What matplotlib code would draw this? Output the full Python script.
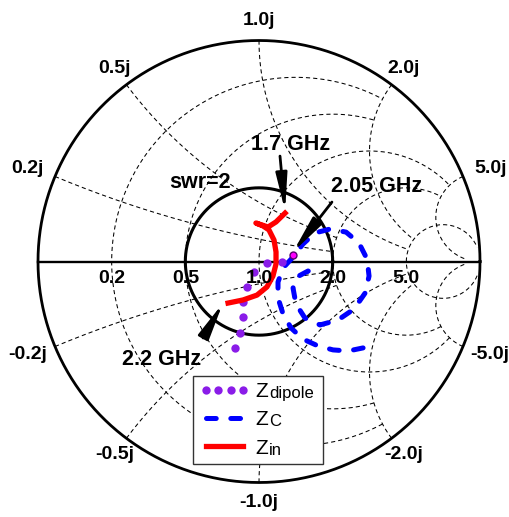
import numpy as np
import matplotlib
matplotlib.use('Agg')
import matplotlib.pyplot as plt

plt.rcParams['font.family'] = ['Liberation Sans', 'DejaVu Sans']
plt.rcParams['lines.scale_dashes'] = False

# ── chart grid ───────────────────────────────────────────────
GRID_VALS = [0.2, 0.5, 1.0, 2.0, 5.0]
GRID_ENDS = [2.0, 2.0, 5.0, 5.0, 30.0]
R_LABELS  = ['0.2', '0.5', '1.0', '2.0', '5.0']
X_LABELS  = ['0.2j', '0.5j', '1.0j', '2.0j', '5.0j']
SWR = 2.0

# ── reflection coefficient ───────────────────────────────────
zdip_re = [0.104, 0.036, -0.023, -0.054, -0.072, -0.072, -0.086, -0.109]
zdip_im = [-0.002, -0.007, -0.048, -0.115, -0.183, -0.251, -0.324, -0.391]

zc_re = [0.471, 0.403, 0.335, 0.267, 0.199, 0.145, 0.109, 0.086, 0.086, 0.109,
         0.154, 0.199, 0.253, 0.321, 0.394, 0.452, 0.489, 0.498, 0.480, 0.430,
         0.357, 0.276, 0.208, 0.167, 0.154, 0.172, 0.222, 0.281]
zc_im = [-0.391, -0.405, -0.400, -0.382, -0.351, -0.301, -0.238, -0.165, -0.093, -0.029,
         0.020, 0.079, 0.129, 0.147, 0.133, 0.084, 0.011, -0.066, -0.143, -0.215,
         -0.265, -0.287, -0.256, -0.192, -0.120, -0.070, -0.043, -0.066]

zin_re = [0.118, 0.077, 0.041, 0.014, -0.014, 0.018, 0.045, 0.068, 0.077, 0.077,
          0.063, 0.036, -0.009, -0.072, -0.140]
zin_im = [0.219, 0.179, 0.156, 0.165, 0.174, 0.161, 0.143, 0.097, 0.043, -0.011,
          -0.066, -0.115, -0.152, -0.174, -0.188]

marker_205 = (0.154, 0.029)

# frequency notes: text, text position, arrow tail, arrow tip
NOTES = [
    ('1.7 GHz',  (0.145, 0.5045),  (0.095, 0.477),  (0.118, 0.229)),
    ('2.05 GHz', (0.532, 0.3145),  (0.330, 0.269),  (0.154, 0.043)),
    ('2.2 GHz',  (-0.441, -0.468), (-0.253, -0.346), (-0.163, -0.188)),
]
SWR_TEXT_POS = (-0.267, 0.332)

LEG_SUBS = ['dipole', 'C', 'in']


def gamma(z):
    return (z - 1) / (z + 1)


fig = plt.figure(figsize=(5.09, 5.17), dpi=100)
ax = fig.add_axes([0, 0, 1, 1])
ax.set_xlim(-259 / 221, 250 / 221)
ax.set_ylim(-255.5 / 221, 261.5 / 221)
ax.axis('off')

# grid (dashed r circles and x arcs)
gdash = (0, (3.0, 2.2))
for v, e in zip(GRID_VALS, GRID_ENDS):
    xx = np.linspace(-e, e, 4000)
    g = gamma(v + 1j * xx)
    ax.plot(g.real, g.imag, color='k', lw=0.75, ls=gdash, zorder=1)
    rr = np.linspace(0, e, 4000)
    for s in (1, -1):
        g = gamma(rr + 1j * s * v)
        ax.plot(g.real, g.imag, color='k', lw=0.75, ls=gdash, zorder=1)

# rim, real axis, swr circle
th = np.linspace(0, 2 * np.pi, 721)
ax.plot(np.cos(th), np.sin(th), color='k', lw=2.0, zorder=2)
ax.plot([-1, 1], [0, 0], color='k', lw=1.7, zorder=2)
rs = (SWR - 1) / (SWR + 1)
ax.plot(rs * np.cos(th), rs * np.sin(th), color='k', lw=2.2, zorder=2)

# labels
for v, lab in zip(GRID_VALS, R_LABELS):
    ax.text(gamma(v), -0.075, lab, ha='center', va='center',
            fontsize=14, fontweight='bold', zorder=6)
for v, lab in zip(GRID_VALS, X_LABELS):
    for s in (1, -1):
        g = gamma(1j * s * v)
        gx = g.real * 1.09 + (0.04 * np.sign(g.real) if abs(g.real) > 0.9 else 0)
        gy = g.imag * 1.09
        ax.text(gx, gy, lab if s > 0 else '-' + lab, ha='center', va='center',
                fontsize=14, fontweight='bold', zorder=6)

# curves
h_c, = ax.plot(zc_re, zc_im, color='#0000FF', lw=3.6, ls=(0, (7, 10.5)),
               dash_capstyle='round', zorder=3)
h_dip, = ax.plot(zdip_re, zdip_im, ls='none', marker='o', ms=6,
                 color='#8A1CE8', mec='none', zorder=4)
h_in, = ax.plot(zin_re, zin_im, color='#FF0000', lw=3.8,
                solid_joinstyle='round', zorder=4)
ax.plot(*marker_205, marker='o', ms=5, mfc='#FF00FF', mec='#5a0070',
        mew=1.0, zorder=5)

# notes and arrows
for txt, tpos, tail, tip in NOTES:
    ax.text(*tpos, txt, ha='center', va='baseline', fontsize=15.5,
            fontweight='bold', zorder=6)
    ax.annotate('', xy=tip, xytext=tail,
                arrowprops=dict(arrowstyle='-|>,head_length=1.1,head_width=0.17',
                                color='k', lw=2, mutation_scale=20,
                                shrinkA=0, shrinkB=0), zorder=6)
ax.text(*SWR_TEXT_POS, 'swr=2', ha='center', va='baseline', fontsize=15.5,
        fontweight='bold', zorder=6)

# legend
leg = ax.legend(handles=[h_dip, h_c, h_in], labels=['Z', 'Z', 'Z'],
                loc='lower left', bbox_to_anchor=(193 / 509, 1 - 464 / 517, 130 / 509, 0.17),
                mode='expand', borderaxespad=0, fontsize=15, numpoints=4,
                handlelength=2.4, handletextpad=0.3, borderpad=0.3,
                labelspacing=0.45, fancybox=False, framealpha=1,
                edgecolor='#333333')
leg.get_frame().set_linewidth(1.0)
leg.set_zorder(7)
for t, sub in zip(leg.get_texts(), LEG_SUBS):
    ax.annotate(sub, xy=(1, 0), xycoords=t, xytext=(0.5, 0),
                textcoords='offset points', ha='left', va='bottom',
                fontsize=12, zorder=8, annotation_clip=False)

fig.savefig('out.png', dpi=100)
